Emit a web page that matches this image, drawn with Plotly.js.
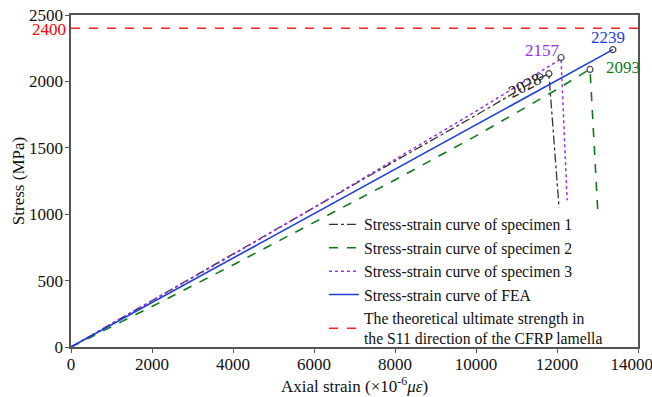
<!DOCTYPE html>
<html>
<head>
<meta charset="utf-8">
<script src="https://cdn.plot.ly/plotly-3.0.1.min.js"></script>
<style>html,body{margin:0;padding:0;background:#fff;}#chart{width:652px;height:397px;}</style>
</head>
<body>
<div id="chart"></div>
<script>
// Specimen 1
const s1Strain = [0, 2000, 4000, 6000, 8000, 10000, 11580, 11800, 12050];
const s1Stress = [0, 352, 702, 1050, 1400, 1745, 2028, 2055, 1050];
// Specimen 2
const s2Strain = [0, 2000, 4000, 6000, 8000, 10000, 12000, 12815, 13010];
const s2Stress = [0, 305, 618, 935, 1258, 1590, 1940, 2093, 1010];
// Specimen 3
const s3Strain = [0, 2000, 4000, 6000, 8000, 10000, 12100, 12250];
const s3Stress = [0, 345, 695, 1050, 1410, 1775, 2170, 1105];
// FEA
const feaStrain = [0, 13380];
const feaStress = [0, 2239];
// theoretical strength
const theoStrain = [0, 14000];
const theoStress = [2400, 2400];
// peak markers
const peakStrain = [11580, 11800, 12815, 12100, 13380];
const peakStress = [2035, 2058, 2090, 2180, 2239];
// peak labels
const peakLabels = ["2028", "2093", "2157", "2239"];
const labelStrain = [11210, 13640, 11640, 13260];
const labelStress = [1968, 2101, 2229, 2327];
const labelColors = ["#222222", "#11781a", "#9a30e8", "#1f3fd8"];
const labelAngles = [-27, 0, 0, 0];
// x tick labels
const xTickVals = [0, 2000, 4000, 6000, 8000, 10000, 12000, 14000];
const xTickText = ["0", "2000", "4000", "6000", "8000", "10000", "12000", "14000&nbsp;&nbsp;&nbsp;"];

const F = "Liberation Serif";
const traces = [
  {x: s1Strain, y: s1Stress, mode: "lines", name: "Stress-strain curve of specimen 1",
   line: {color: "#333333", width: 1.3, dash: "dashdot"}},
  {x: s2Strain, y: s2Stress, mode: "lines", name: "Stress-strain curve of specimen 2",
   line: {color: "#11781a", width: 1.6, dash: "dash"}},
  {x: s3Strain, y: s3Stress, mode: "lines", name: "Stress-strain curve of specimen 3",
   line: {color: "#9a30e8", width: 1.5, dash: "dot"}},
  {x: feaStrain, y: feaStress, mode: "lines", name: "Stress-strain curve of FEA",
   line: {color: "#1f3fd8", width: 1.6}},
  {x: theoStrain, y: theoStress, mode: "lines",
   name: "The theoretical ultimate strength in<br>the S11 direction of the CFRP lamella",
   line: {color: "#ff2020", width: 1.4, dash: "dash"}},
  {x: peakStrain, y: peakStress, mode: "markers", showlegend: false,
   marker: {symbol: "circle-open", size: 6, color: "#444444", line: {width: 1.2}}}
];

const annotations = peakLabels.map((t, i) => ({
  x: labelStrain[i], y: labelStress[i], text: t, showarrow: false,
  textangle: labelAngles[i], font: {family: F, size: 17, color: labelColors[i]},
  xanchor: "center", yanchor: "middle"
}));
annotations.push({xref: "paper", x: 0, y: 2400, yref: "y", text: "2400", showarrow: false,
  xanchor: "right", xshift: -3, yshift: -1, font: {family: F, size: 17, color: "#ff0000"}});

const layout = {
  width: 652, height: 397,
  margin: {l: 71, r: 14, t: 15, b: 50},
  paper_bgcolor: "#fff", plot_bgcolor: "#fff",
  font: {family: F, size: 17, color: "#111"},
  showlegend: true,
  legend: {x: 0.947, xanchor: "right", y: -0.026, yanchor: "bottom", bgcolor: "rgba(0,0,0,0)",
    font: {family: F, size: 15.7, color: "#111"}, tracegroupgap: 0, itemwidth: 30},
  xaxis: {range: [0, 14000], tickvals: xTickVals, ticktext: xTickText, showgrid: false, zeroline: false,
    showline: true, linecolor: "#555", linewidth: 1.6, mirror: true,
    ticks: "outside", ticklen: 4, tickcolor: "#555", tickfont: {family: F, size: 17},
    ticklabeloverflow: "allow", ticklabelstandoff: -3,
    title: {text: "Axial strain (×10<sup>-6</sup><i>με</i>)", font: {family: F, size: 17}, standoff: 2}},
  yaxis: {range: [0, 2500], dtick: 500, showgrid: false, zeroline: false,
    showline: true, linecolor: "#555", linewidth: 1.6, mirror: true,
    ticks: "outside", ticklen: 4, tickcolor: "#555", tickfont: {family: F, size: 17},
    ticklabelstandoff: -1,
    title: {text: "Stress (MPa)", font: {family: F, size: 17}, standoff: 0}},
  annotations: annotations
};
Plotly.newPlot("chart", traces, layout, {displayModeBar: false, staticPlot: true});
</script>
</body>
</html>
